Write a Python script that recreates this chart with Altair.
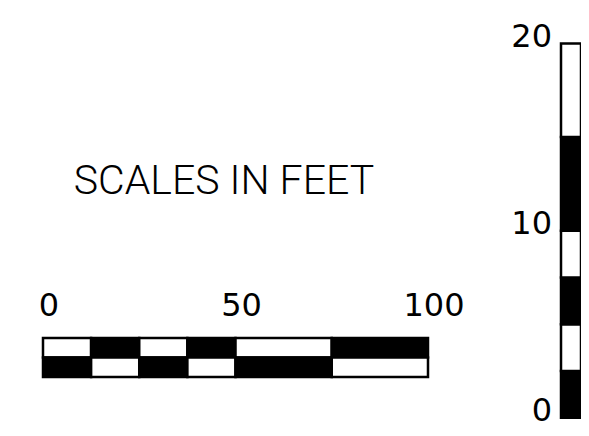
import altair as alt
import pandas as pd

# ---- data (feet) ----
h_starts = [0, 12.5, 25, 37.5, 50, 75]
h_ends = [12.5, 25, 37.5, 50, 75, 100]
h_top_fill = ["W", "B", "W", "B", "W", "B"]
h_bottom_fill = ["B", "W", "B", "W", "B", "W"]
h_ticks = [0, 50, 100]
h_tick_labels = ["0", "50", "100"]

v_starts = [0, 2.5, 5, 7.5, 10, 15]
v_ends = [2.5, 5, 7.5, 10, 15, 20]
v_fill = ["B", "W", "B", "W", "B", "W"]
v_ticks = [0, 10, 20]
v_tick_labels = ["0", "10", "20"]

title_text = "SCALES IN FEET"

# ---- tables ----
h_df = pd.DataFrame({
    "x": h_starts + h_starts,
    "x2": h_ends + h_ends,
    "row": [1] * len(h_starts) + [0] * len(h_starts),
    "row2": [2] * len(h_starts) + [1] * len(h_starts),
    "fill": h_top_fill + h_bottom_fill,
})
h_lab = pd.DataFrame({"x": h_ticks, "label": h_tick_labels, "row": [2] * len(h_ticks)})

v_df = pd.DataFrame({
    "y": v_starts, "y2": v_ends, "col": [0] * len(v_starts),
    "col2": [1] * len(v_starts), "fill": v_fill,
})
v_lab = pd.DataFrame({"y": v_ticks, "label": v_tick_labels, "col": [0] * len(v_ticks)})

fill_scale = alt.Scale(domain=["W", "B"], range=["white", "black"])

hx = alt.Scale(domain=[-9.09, 139.74], zero=False, nice=False)
hy = alt.Scale(domain=[-2.615, 18.92], zero=False, nice=False)
vx = alt.Scale(domain=[-27.65, 1], zero=False, nice=False)
vy = alt.Scale(domain=[-0.55, 21.9], zero=False, nice=False)

h_bar = alt.Chart(h_df).mark_rect(stroke="black", strokeWidth=2.5).encode(
    x=alt.X("x:Q", scale=hx, axis=None),
    x2="x2",
    y=alt.Y("row:Q", scale=hy, axis=None),
    y2="row2",
    fill=alt.Fill("fill:N", scale=fill_scale, legend=None),
)
h_text = alt.Chart(h_lab).mark_text(
    font="DejaVu Sans", fontSize=32, baseline="bottom", align="center",
    dy=-15, dx=6, color="black",
).encode(
    x=alt.X("x:Q", scale=hx, axis=None),
    y=alt.Y("row:Q", scale=hy, axis=None),
    text="label:N",
)

v_bar = alt.Chart(v_df).mark_rect(stroke="black", strokeWidth=2.5).encode(
    x=alt.X("col:Q", scale=vx, axis=None),
    x2="col2",
    y=alt.Y("y:Q", scale=vy, axis=None),
    y2="y2",
    fill=alt.Fill("fill:N", scale=fill_scale, legend=None),
)
v_text = alt.Chart(v_lab).mark_text(
    font="DejaVu Sans", fontSize=32, baseline="middle", align="right",
    dx=-9, dy=-7, color="black",
).encode(
    x=alt.X("col:Q", scale=vx, axis=None),
    y=alt.Y("y:Q", scale=vy, axis=None),
    text="label:N",
)

title = alt.Chart(pd.DataFrame({"t": [title_text]})).mark_text(
    font="Roboto", fontWeight=300, fontSize=41, align="center",
    baseline="middle", color="black",
).encode(x=alt.value(216), y=alt.value(174), text="t:N")

chart = alt.layer(h_bar, h_text, v_bar, v_text, title).resolve_scale(
    x="independent", y="independent"
).properties(
    width=573, height=420, padding=0,
    autosize=alt.AutoSizeParams(type="none"),
    background="white",
).configure_view(stroke=None)

chart.save("out.html", embed_options={"renderer": "svg", "actions": False})
